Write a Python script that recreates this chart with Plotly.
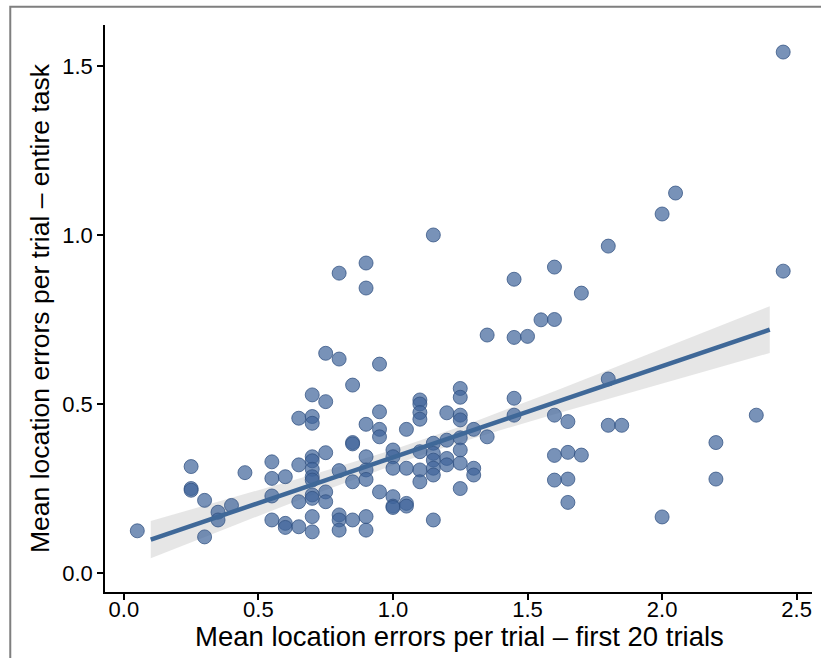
import plotly.graph_objects as go

# Data
x_first20 = [0.05, 0.25, 0.25, 0.25, 0.30, 0.30, 0.35, 0.35, 0.40, 0.45,
             0.55, 0.55, 0.55, 0.55, 0.60, 0.60, 0.60, 0.65, 0.65, 0.65,
             0.65, 0.70, 0.70, 0.70, 0.70, 0.70, 0.70, 0.70, 0.70, 0.70,
             0.70, 0.70, 0.70, 0.75, 0.75, 0.75, 0.75, 0.75, 0.80, 0.80,
             0.80, 0.80, 0.80, 0.80, 0.85, 0.85, 0.85, 0.85, 0.85, 0.90,
             0.90, 0.90, 0.90, 0.90, 0.90, 0.90, 0.90, 0.95, 0.95, 0.95,
             0.95, 0.95, 1.00, 1.00, 1.00, 1.00, 1.00, 1.00, 1.05, 1.05,
             1.05, 1.05, 1.10, 1.10, 1.10, 1.10, 1.10, 1.10, 1.10, 1.15,
             1.15, 1.15, 1.15, 1.15, 1.15, 1.15, 1.20, 1.20, 1.20, 1.20,
             1.25, 1.25, 1.25, 1.25, 1.25, 1.25, 1.25, 1.25, 1.30, 1.30,
             1.30, 1.35, 1.35, 1.45, 1.45, 1.45, 1.45, 1.50, 1.55, 1.60,
             1.60, 1.60, 1.60, 1.60, 1.65, 1.65, 1.65, 1.65, 1.70, 1.70,
             1.80, 1.80, 1.80, 1.85, 2.00, 2.00, 2.05, 2.20, 2.20, 2.35,
             2.45, 2.45]
y_entire = [0.125, 0.315, 0.250, 0.245, 0.215, 0.107, 0.180, 0.157, 0.200, 0.297,
            0.329, 0.280, 0.228, 0.157, 0.285, 0.147, 0.135, 0.458, 0.320, 0.211,
            0.137, 0.527, 0.463, 0.443, 0.344, 0.332, 0.307, 0.285, 0.275, 0.231,
            0.221, 0.167, 0.122, 0.650, 0.507, 0.356, 0.240, 0.211, 0.887, 0.633,
            0.303, 0.172, 0.157, 0.127, 0.556, 0.386, 0.382, 0.270, 0.157, 0.917,
            0.843, 0.440, 0.344, 0.305, 0.277, 0.167, 0.127, 0.618, 0.477, 0.425,
            0.403, 0.240, 0.364, 0.344, 0.310, 0.226, 0.198, 0.194, 0.425, 0.310,
            0.206, 0.198, 0.512, 0.500, 0.475, 0.455, 0.359, 0.305, 0.270, 1.000,
            0.384, 0.354, 0.334, 0.310, 0.290, 0.157, 0.474, 0.393, 0.339, 0.320,
            0.546, 0.520, 0.467, 0.453, 0.400, 0.364, 0.325, 0.250, 0.425, 0.310,
            0.290, 0.704, 0.403, 0.869, 0.697, 0.517, 0.467, 0.700, 0.749, 0.905,
            0.750, 0.467, 0.348, 0.275, 0.448, 0.357, 0.278, 0.209, 0.828, 0.349,
            0.967, 0.574, 0.437, 0.437, 1.062, 0.166, 1.124, 0.386, 0.278, 0.467,
            1.541, 0.893]

# Regression line and its confidence band
fit_x = [0.10, 0.40, 0.70, 1.00, 1.15, 1.30, 1.60, 1.90, 2.20, 2.40]
fit_y = [0.099, 0.180, 0.261, 0.342, 0.383, 0.423, 0.504, 0.585, 0.666, 0.720]
band_upper = [0.154, 0.222, 0.291, 0.365, 0.405, 0.447, 0.538, 0.631, 0.726, 0.789]
band_lower = [0.044, 0.138, 0.231, 0.319, 0.361, 0.399, 0.470, 0.539, 0.606, 0.651]

x_ticks = [0.0, 0.5, 1.0, 1.5, 2.0, 2.5]
y_ticks = [0.0, 0.5, 1.0, 1.5]
x_title = "Mean location errors per trial \u2013 first 20 trials"
y_title = "Mean location errors per trial \u2013 entire task"

FONT = "Liberation Sans, Arial, Helvetica, sans-serif"

fig = go.Figure()
fig.add_trace(go.Scatter(
    x=fit_x + fit_x[::-1], y=band_upper + band_lower[::-1], mode="lines",
    fill="toself", fillcolor="rgba(205,205,205,0.5)", line=dict(width=0),
    hoverinfo="skip", showlegend=False))
fig.add_trace(go.Scatter(
    x=x_first20, y=y_entire, mode="markers",
    marker=dict(size=14, color="rgba(62,100,154,0.7)",
                line=dict(color="rgba(50,82,130,0.75)", width=1)),
    showlegend=False))
fig.add_trace(go.Scatter(
    x=fit_x, y=fit_y, mode="lines", line=dict(color="#3f6898", width=4.5),
    showlegend=False))

axis_common = dict(
    showgrid=False, zeroline=False, showline=True, linecolor="black", linewidth=1.5,
    ticks="outside", ticklen=6, tickwidth=1.5, tickcolor="black",
    tickfont=dict(family=FONT, size=22, color="black"),
    mirror=False,
)
fig.update_xaxes(range=[-0.07, 2.557], tickvals=x_ticks,
                 ticktext=[f"{v:.1f}" for v in x_ticks], ticklabelstandoff=-9,
                 **axis_common)
fig.update_yaxes(range=[-0.056, 1.621], tickvals=y_ticks,
                 ticktext=[f"{v:.1f}" for v in y_ticks], **axis_common)

fig.add_annotation(text=x_title, xref="paper", yref="paper", x=0.502, y=-0.078,
                   xanchor="center", yanchor="middle", showarrow=False,
                   font=dict(family=FONT, size=27.5, color="black"))
fig.add_annotation(text=y_title, xref="paper", yref="paper", x=-0.0919, y=0.501,
                   xanchor="center", yanchor="middle", showarrow=False, textangle=-90,
                   font=dict(family=FONT, size=26.5, color="black"))

# gray frame around figure (top and left visible)
fig.add_shape(type="rect", xref="paper", yref="paper",
              x0=-0.134, x1=1.2, y0=-0.3, y1=1.032,
              line=dict(color="#7f7f7f", width=2), fillcolor="rgba(0,0,0,0)", layer="below")

fig.update_layout(
    width=821, height=658,
    margin=dict(l=105, r=9, t=25, b=66),
    paper_bgcolor="white", plot_bgcolor="white",
    font=dict(family=FONT),
)
fig.write_html("out.html")
